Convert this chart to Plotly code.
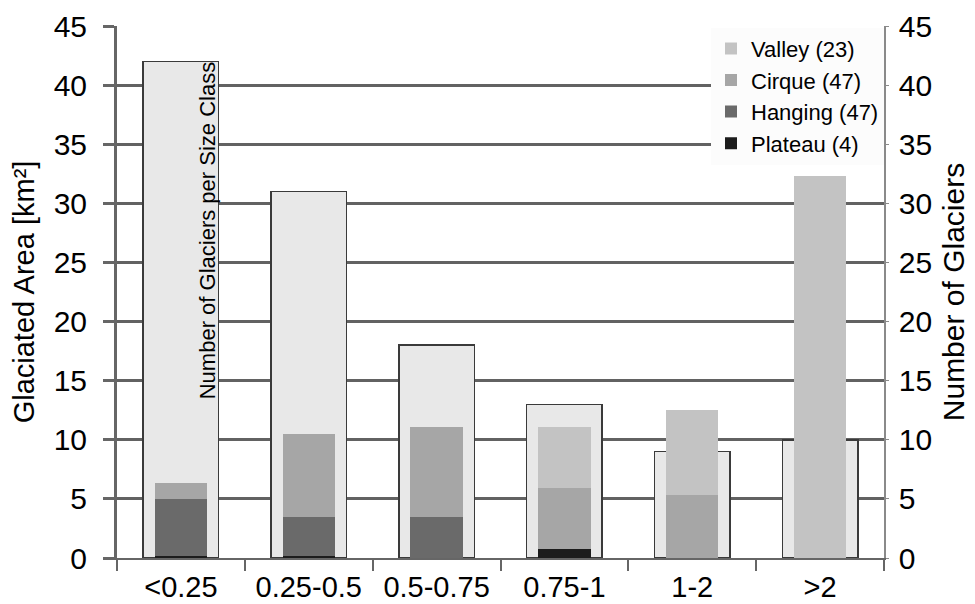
import plotly.graph_objects as go

categories = ["<0.25", "0.25-0.5", "0.5-0.75", "0.75-1", "1-2", ">2"]
n_glaciers = [42, 31, 18, 13, 9, 10]
plateau = [0.15, 0.15, 0, 0.76, 0, 0]
hanging = [4.8, 3.35, 3.5, 0, 0, 0]
cirque = [1.4, 7.0, 7.6, 5.16, 5.3, 0]
valley = [0, 0, 0, 5.2, 7.25, 32.3]
y_ticks = [0, 5, 10, 15, 20, 25, 30, 35, 40, 45]

FONT = "Liberation Sans, Arial, sans-serif"
GRID = "#626262"

fig = go.Figure()

# Number of glaciers (wide bars, right axis, drawn underneath)
fig.add_trace(go.Bar(
    x=categories, y=n_glaciers, width=0.59, yaxis="y",
    marker=dict(color="#e8e8e8", line=dict(color="#3a3a3a", width=1.5)),
    showlegend=False, name="Number of Glaciers",
))

series = [
    ("Plateau (4)", plateau, "#1c1c1c"),
    ("Hanging (47)", hanging, "#6a6a6a"),
    ("Cirque (47)", cirque, "#a6a6a6"),
    ("Valley (23)", valley, "#c3c3c3"),
]
for name, vals, col in series:
    fig.add_trace(go.Bar(
        x=categories, y=vals, width=0.41, yaxis="y2", name=name,
        marker=dict(color=col, line=dict(width=0)),
    ))

fig.update_layout(
    width=975, height=604,
    margin=dict(l=109, r=99, t=18, b=54, autoexpand=False),
    paper_bgcolor="white", plot_bgcolor="white",
    barmode="stack",
    font=dict(family=FONT, color="black", size=30),
    xaxis=dict(
        type="category", tickson="boundaries", ticks="outside", ticklen=11,
        tickwidth=2, tickcolor="#666", showline=True, linecolor="#666",
        linewidth=2, showgrid=False, tickfont=dict(size=29),
        range=[-0.5, 5.5], automargin=False, ticklabelstandoff=2,
    ),
    yaxis=dict(
        side="right", range=[0, 45], tickvals=y_ticks, showgrid=True,
        gridcolor=GRID, gridwidth=3, zeroline=False, showline=True,
        linecolor="#8a8a8a", linewidth=1.5, ticks="outside", ticklen=3,
        tickcolor="#8a8a8a", tickfont=dict(size=30), ticklabelstandoff=4,
        automargin=False,
        title=dict(text="Number of Glaciers", font=dict(size=30), standoff=12),
    ),
    yaxis2=dict(
        side="left", overlaying="y", range=[0, 45], tickvals=y_ticks,
        showgrid=False, zeroline=False, showline=True, linecolor="#666",
        linewidth=3, ticks="outside", ticklen=11, tickwidth=3, tickcolor="#666",
        tickfont=dict(size=30), ticklabelstandoff=10, automargin=False,
        title=dict(text="Glaciated Area [km²]", font=dict(size=29), standoff=12),
    ),
    legend=dict(
        x=1, xanchor="right", y=0.997, yanchor="top", bgcolor="#fcfcfc",
        font=dict(size=22), traceorder="reversed", tracegroupgap=0,
        itemclick=False,
    ),
    annotations=[dict(
        text="Number of Glaciers per Size Class", textangle=-90,
        x=0.21, y=27.7, xref="x", yref="y", showarrow=False,
        font=dict(size=22, color="black"),
    )],
)

fig.write_html("out.html")
